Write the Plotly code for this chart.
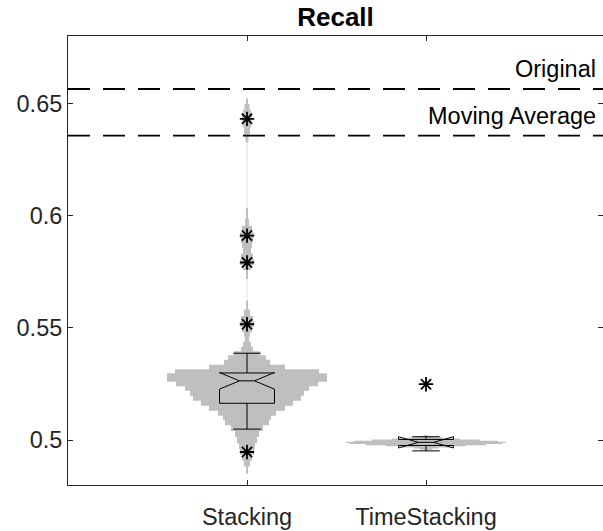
import numpy as np
import plotly.graph_objects as go

# ---------------- data ----------------
categories = ["Stacking", "TimeStacking"]
positions = [1, 2]

# violin density profiles (y value, relative density)
stacking_kde_y = [0.4836, 0.4867, 0.4898, 0.4920, 0.4947, 0.4973, 0.5000, 0.5027,
                  0.5053, 0.5080, 0.5098, 0.5120, 0.5142, 0.5164, 0.5187, 0.5209,
                  0.5231, 0.5249, 0.5271, 0.5289, 0.5307, 0.5324, 0.5347, 0.5369,
                  0.5387, 0.5404, 0.5427, 0.5449, 0.5471, 0.5493, 0.5516, 0.5542,
                  0.5564, 0.5600, 0.5644, 0.5689, 0.5747, 0.5769, 0.5791, 0.5818,
                  0.5844, 0.5867, 0.5889, 0.5911, 0.5938, 0.5969, 0.6000, 0.6067,
                  0.6200, 0.6311, 0.6342, 0.6378, 0.6409, 0.6431, 0.6458, 0.6484,
                  0.6511, 0.6533]
stacking_kde_d = [0, 1, 3, 5, 7, 8, 10, 12,
                  16, 22, 24, 29, 38, 46, 54, 57,
                  62, 71, 80, 80, 72, 38, 23, 19,
                  13, 6, 4, 2, 3, 5, 7, 6,
                  3, 1, 0.2, 0.2, 1, 4, 7, 6,
                  4, 5, 6, 7, 5, 2, 1, 0.2,
                  0.2, 0.3, 1.5, 3, 4, 5, 4, 2.5,
                  1, 0]

timestacking_kde_y = [0.4950, 0.4955, 0.4960, 0.4965, 0.4970, 0.4975, 0.4980, 0.4985,
                      0.4990, 0.4995, 0.5000, 0.5005, 0.5010, 0.5015, 0.5020, 0.5025]
timestacking_kde_d = [0, 2, 6, 12, 24, 40, 60, 76,
                      80, 72, 54, 34, 17, 7, 2, 0]

# box statistics
q1 = [0.5164, 0.4976]
median = [0.5264, 0.4990]
q3 = [0.5299, 0.5003]
lower_whisker = [0.5049, 0.4952]
upper_whisker = [0.5387, 0.5015]
notch_span = [0.0037, 0.0025]

stacking_outliers = [0.6431, 0.5911, 0.5791, 0.5516, 0.4947]
timestacking_outliers = [0.5249]

reference_names = ["Original", "Moving Average"]
reference_values = [0.6564, 0.6356]

ytick_vals = [0.5, 0.55, 0.6, 0.65]
ytick_text = ["0.5", "0.55", "0.6", "0.65"]

# ---------------- styling ----------------
VIOLIN_HALF = 0.447
BOX_WIDTH = 0.307
GRAY = "rgb(191,191,191)"
AXIS = "#262626"
FONT = "Liberation Sans, Arial, Helvetica, sans-serif"
FS = 23.5


def step_polygon(center, ys, ds, halfmax):
    ys = np.asarray(ys, float)
    ds = np.asarray(ds, float)
    w = ds / ds.max() * halfmax
    edges = np.concatenate([[ys[0]], (ys[1:] + ys[:-1]) / 2, [ys[-1]]])
    rx, ry = [], []
    for i in range(len(ys)):
        rx += [center + w[i], center + w[i]]
        ry += [edges[i], edges[i + 1]]
    lx = [2 * center - x for x in rx[::-1]]
    ly = ry[::-1]
    return rx + lx, ry + ly


fig = go.Figure()

for pos, ys, ds in [(positions[0], stacking_kde_y, stacking_kde_d),
                    (positions[1], timestacking_kde_y, timestacking_kde_d)]:
    px_, py_ = step_polygon(pos, ys, ds, VIOLIN_HALF)
    fig.add_trace(go.Scatter(x=px_, y=py_, mode="none", fill="toself",
                             fillcolor=GRAY, hoverinfo="skip", showlegend=False))

fig.add_trace(go.Box(
    x=positions, q1=q1, median=median, q3=q3,
    lowerfence=lower_whisker, upperfence=upper_whisker,
    notchspan=notch_span, notched=True, notchwidth=0.364,
    width=BOX_WIDTH, whiskerwidth=0.5, boxpoints=False,
    fillcolor="rgba(0,0,0,0)", line=dict(color="black", width=1),
    yaxis="y2", showlegend=False))

out_x = [positions[0]] * len(stacking_outliers) + [positions[1]] * len(timestacking_outliers)
out_y = stacking_outliers + timestacking_outliers
fig.add_trace(go.Scatter(x=out_x, y=out_y, mode="markers", yaxis="y2",
                         marker=dict(symbol="asterisk-open", size=12, color="black",
                                     line=dict(color="black", width=1.8)),
                         showlegend=False))

for val in reference_values:
    fig.add_trace(go.Scatter(x=[0, 3], y=[val, val], mode="lines", yaxis="y2",
                             line=dict(color="black", width=1.8, dash="22px,13px"),
                             showlegend=False, hoverinfo="skip"))

for name, val in zip(reference_names, reference_values):
    fig.add_annotation(x=1, xref="paper", xanchor="right", xshift=-5,
                       y=val, yref="y", yanchor="bottom", yshift=5,
                       text=name, showarrow=False,
                       font=dict(size=FS, color="black", family=FONT))

fig.update_layout(
    width=603, height=531,
    margin=dict(l=68, r=0, t=36, b=46),
    plot_bgcolor="white", paper_bgcolor="white",
    showlegend=False,
    font=dict(family=FONT, color=AXIS, size=FS),
    title=dict(text="<b>Recall</b>", x=0.5, xref="paper", xanchor="center",
               y=1 - 17 / 531, yref="container", yanchor="middle",
               font=dict(size=26, color="black", family=FONT)),
    xaxis=dict(range=[0, 3 * (603 - 68) / (605 - 68)], tickvals=positions,
               ticktext=categories, ticks="inside", ticklen=5, tickwidth=1,
               tickcolor=AXIS, showline=True, linecolor=AXIS, linewidth=1,
               mirror="ticks", showgrid=False, zeroline=False,
               ticklabelstandoff=11),
    yaxis=dict(range=[0.48, 0.68], tickvals=ytick_vals, ticktext=ytick_text,
               ticks="inside", ticklen=5, tickwidth=1, tickcolor=AXIS,
               showline=True, linecolor=AXIS, linewidth=1, mirror=False,
               showgrid=False, zeroline=False),
    yaxis2=dict(overlaying="y", side="right", range=[0.48, 0.68],
                tickvals=ytick_vals, ticks="inside", ticklen=5, tickwidth=1,
                tickcolor=AXIS, showticklabels=False, showline=False,
                showgrid=False, zeroline=False),
)

fig.write_html("out.html")
